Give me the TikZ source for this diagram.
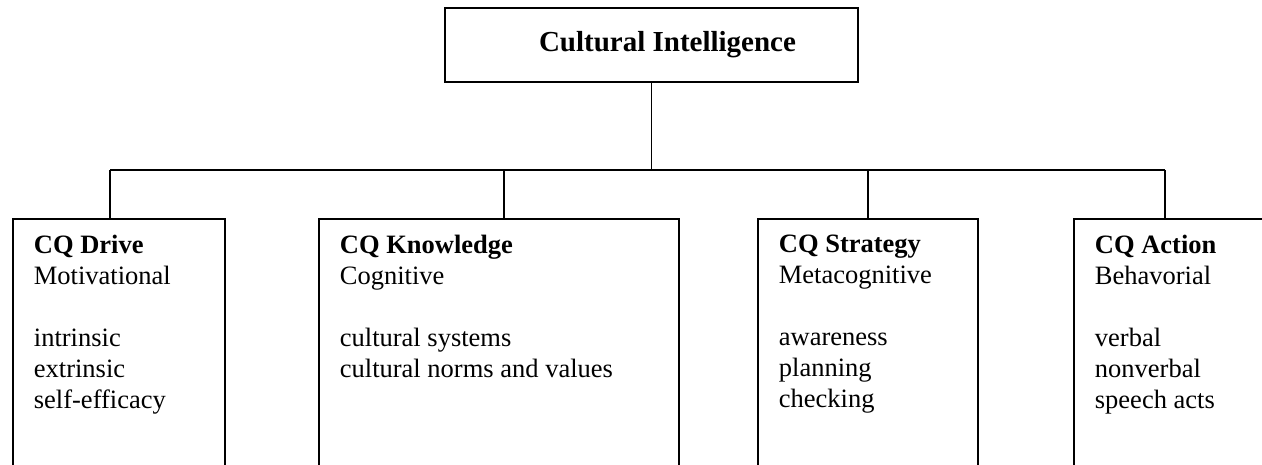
\documentclass[tikz,border=0pt]{standalone}
\usepackage{fontspec}
\setmainfont{Liberation Serif}
\usepackage{tikz}

\tikzset{
	cqbox/.style={draw, line width=1.8pt, anchor=north west, inner xsep=21pt, inner ysep=16pt,
		font=\fontsize{26.5}{31}\selectfont},
	titlebox/.style={draw, line width=1.8pt, minimum width=413pt, minimum height=74pt,
		font=\fontsize{29}{34}\selectfont\bfseries}
}

\begin{document}
\begin{tikzpicture}[x=1pt,y=-1pt,line width=1.8pt]
	\useasboundingbox (0,0) rectangle (1262,465);
	\clip (0,0) rectangle (1262,465);

	\node[titlebox] (ci) at (651.5,45) {\hspace*{32pt}\raisebox{-3pt}{Cultural Intelligence}};

	\node[cqbox] (drive) at (12,218) {\parbox[t][300pt][t]{170pt}{\textbf{CQ Drive}\\Motivational\\[31pt]intrinsic\\extrinsic\\self-efficacy}};
	\node[cqbox] (know) at (318,218) {\parbox[t][300pt][t]{318pt}{\textbf{CQ Knowledge}\\Cognitive\\[31pt]cultural systems\\cultural norms and values}};
	\node[cqbox] (strat) at (757,218) {\parbox[t][300pt][t]{178pt}{\textbf{CQ Strategy}\\Metacognitive\\[31pt]awareness\\planning\\checking}};
	\node[cqbox] (act) at (1073,218) {\parbox[t][300pt][t]{170pt}{\textbf{CQ Action}\\Behavorial\\[31pt]verbal\\nonverbal\\speech acts}};

	% bus
	\coordinate (b1) at (110,170);
	\coordinate (b2) at (504,170);
	\coordinate (b3) at (868,170);
	\coordinate (b4) at (1165,170);
	\draw (ci.south) -- (ci.south |- b1);
	\draw (b1) -- (b4);
	\foreach \b/\n in {b1/drive, b2/know, b3/strat, b4/act}
		\draw (\b) -- (\b |- \n.north);
\end{tikzpicture}
\end{document}
